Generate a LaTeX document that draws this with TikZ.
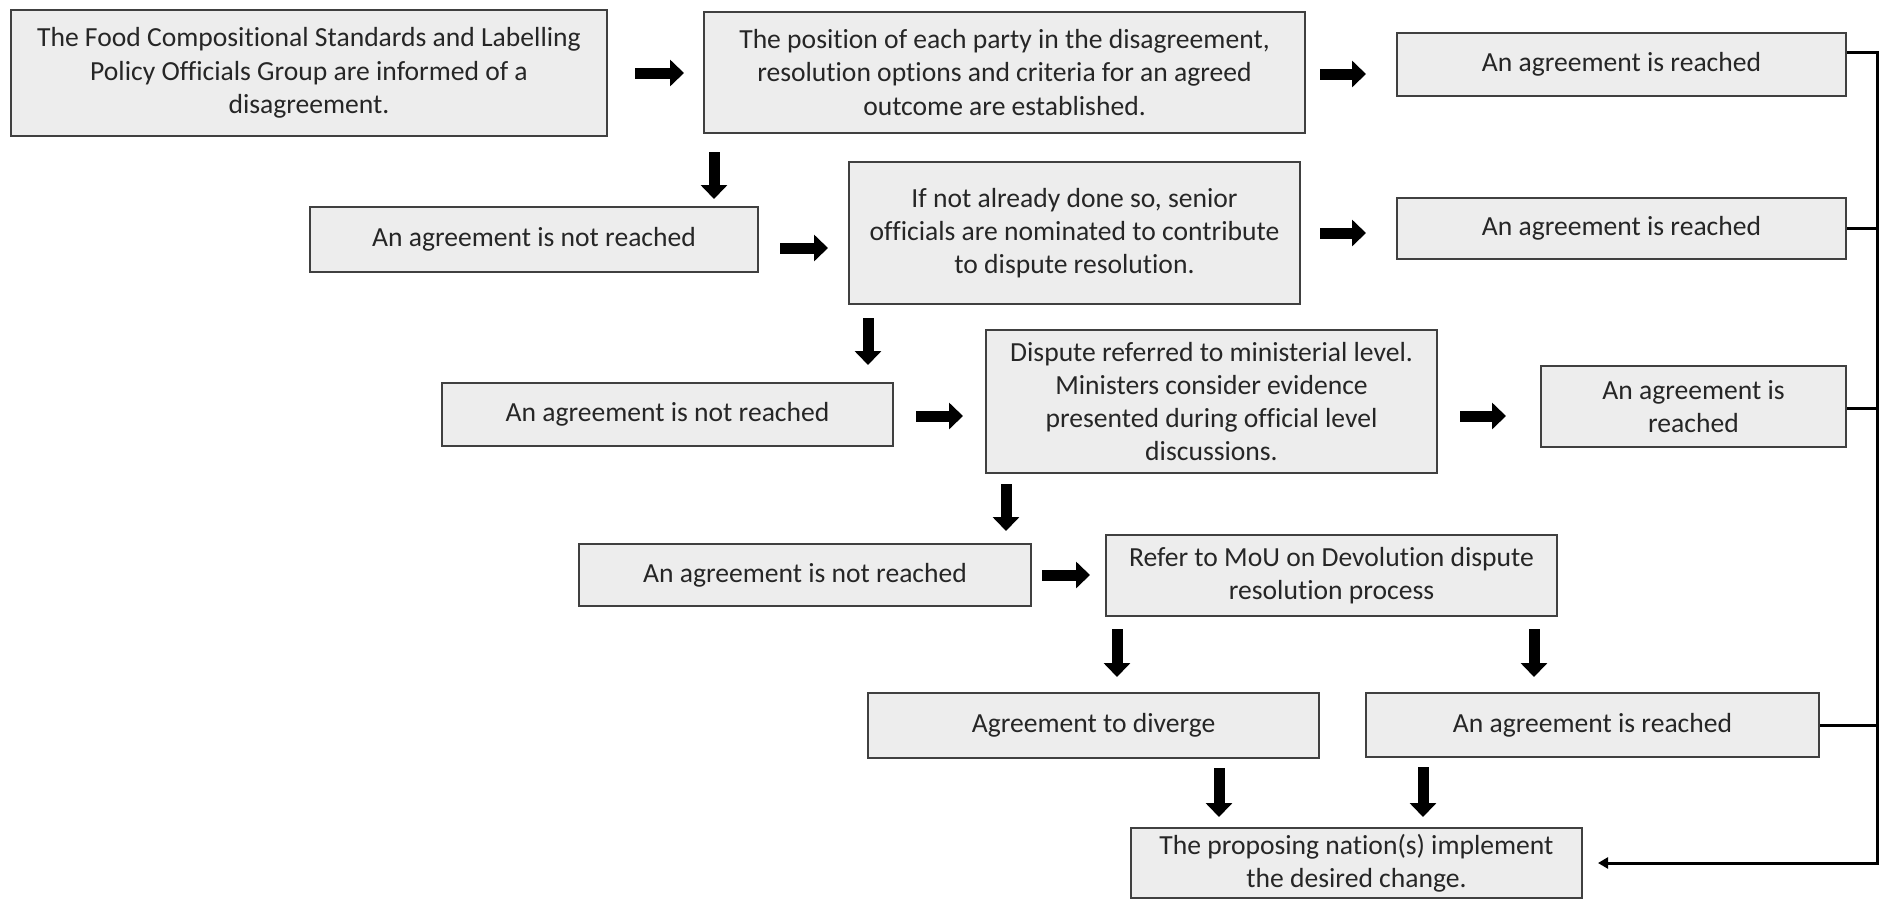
\documentclass[tikz,border=0pt]{standalone}
\usepackage{fontspec}
\setmainfont[Ligatures=NoCommon]{Carlito}
\usetikzlibrary{arrows.meta,calc}
\begin{document}
\begin{tikzpicture}[x=1pt,y=-1pt,
  box/.style={draw=black!75, line width=2pt, fill=black!7, inner sep=0pt, align=center,
    text=black!85, font=\fontsize{27.6}{33.3}\selectfont},
  blk/.style={line width=11pt, -{Triangle[length=14pt,width=26pt]}},
  conn/.style={line width=3pt}
]
\useasboundingbox (0,0) rectangle (1880,898);

\node[box, minimum width=596pt, minimum height=126pt] (B1) at (309,73)
  {The Food Compositional Standards and Labelling\\Policy Officials Group are informed of a\\disagreement.};
\node[box, minimum width=601pt, minimum height=121pt] (B2) at (1004.5,72.5)
  {The position of each party in the disagreement,\\resolution options and criteria for an agreed\\outcome are established.};
\node[box, minimum width=449pt, minimum height=63pt] (R1) at (1621.5,64) {An agreement is reached};

\node[box, minimum width=448pt, minimum height=65pt] (N1) at (534,239.5) {An agreement is not reached};
\node[box, minimum width=451pt, minimum height=142pt] (S) at (1074.5,233)
  {If not already done so, senior\\officials are nominated to contribute\\to dispute resolution.};
\node[box, minimum width=449pt, minimum height=61pt] (R2) at (1621.5,228.5) {An agreement is reached};

\node[box, minimum width=451pt, minimum height=63pt] (N2) at (667.5,414.5) {An agreement is not reached};
\node[box, minimum width=451pt, minimum height=143pt] (M) at (1211.5,401.5)
  {Dispute referred to ministerial level.\\Ministers consider evidence\\presented during official level\\discussions.};
\node[box, minimum width=305pt, minimum height=81pt] (R3) at (1693.5,406.5) {An agreement is\\reached};

\node[box, minimum width=452pt, minimum height=62pt] (N3) at (805,575) {An agreement is not reached};
\node[box, minimum width=451pt, minimum height=81pt] (MoU) at (1331.5,575.5)
  {Refer to MoU on Devolution dispute\\resolution process};

\node[box, minimum width=451pt, minimum height=65pt] (Div) at (1093.5,725.5) {Agreement to diverge};
\node[box, minimum width=453pt, minimum height=64pt] (R4) at (1592.5,725) {An agreement is reached};

\node[box, minimum width=451pt, minimum height=70pt] (F) at (1356.5,863)
  {The proposing nation(s) implement\\the desired change.};

% horizontal block arrows
\draw[blk, shorten <=27pt, shorten >=19pt] (B1.east) -- (B1.east -| B2.west);
\draw[blk, shorten <=14pt, shorten >=30pt] ([yshift=-1.5pt]B2.east) -- ([yshift=-1.5pt]B2.east -| R1.west);
\draw[blk, shorten <=21pt, shorten >=20pt] ([yshift=-8.5pt]N1.east) -- ([yshift=-8.5pt]N1.east -| S.west);
\draw[blk, shorten <=19pt, shorten >=30pt] (S.east) -- (S.east -| R2.west);
\draw[blk, shorten <=22pt, shorten >=22pt] ([yshift=-1.5pt]N2.east) -- ([yshift=-1.5pt]N2.east -| M.west);
\draw[blk, shorten <=22pt, shorten >=34pt] ([yshift=-14.5pt]M.east) -- ([yshift=-14.5pt]M.east -| R3.west);
\draw[blk, shorten <=10pt, shorten >=15pt] (N3.east) -- (N3.east -| MoU.west);

% vertical block arrows
\draw[blk, shorten <=18pt, shorten >=7pt] ([xshift=11pt]B2.south west) -- ([xshift=11pt]B2.south west |- N1.north);
\draw[blk, shorten <=13pt, shorten >=17pt] ([xshift=20pt]S.south west) -- ([xshift=20pt]S.south west |- N2.north);
\draw[blk, shorten <=10pt, shorten >=12pt] ([xshift=21pt]M.south west) -- ([xshift=21pt]M.south west |- N3.north);
\draw[blk, shorten <=12pt, shorten >=15pt] ([xshift=12pt]MoU.south west) -- ([xshift=12pt]MoU.south west |- Div.north);
\draw[blk, shorten <=12pt, shorten >=15pt] ([xshift=-24pt]MoU.south east) -- ([xshift=-24pt]MoU.south east |- R4.north);
\draw[blk, shorten <=9pt, shorten >=10pt] ([xshift=89pt]F.north west |- Div.south) -- ([xshift=89pt]F.north west);
\draw[blk, shorten <=9pt, shorten >=10pt] ([xshift=58pt]R4.south west) -- ([xshift=58pt]R4.south west |- F.north);

% bracket connector
\coordinate (bus) at (1877,52);
\draw[conn, -{Triangle[length=10pt,width=11pt]}, shorten >=15pt]
  ([yshift=12pt]R1.east) -- (bus) -- (bus |- F.east) -- (F.east);
\draw[conn] (R2.east) -- (R2.east -| bus);
\draw[conn] ([yshift=-1.5pt]R3.east) -- ([yshift=-1.5pt]R3.east -| bus);
\draw[conn] (R4.east) -- (R4.east -| bus);
\end{tikzpicture}
\end{document}
